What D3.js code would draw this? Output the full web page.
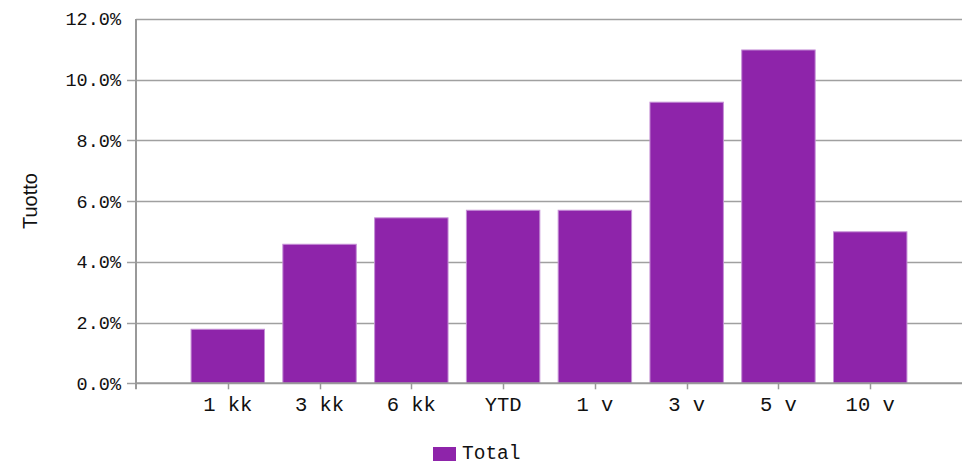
<!DOCTYPE html>
<html><head><meta charset="utf-8">
<script src="https://cdn.jsdelivr.net/npm/d3@7"></script>
<style>body{margin:0;background:#fff}svg{display:block}</style>
</head><body>
<svg id="c" width="968" height="463"></svg>
<script>
const categories = ["1 kk","3 kk","6 kk","YTD","1 v","3 v","5 v","10 v"];
const totalValues = [1.78, 4.58, 5.45, 5.70, 5.70, 9.26, 10.98, 4.99];
const yTicks = [0, 2, 4, 6, 8, 10, 12];
const seriesName = "Total";
const yTitle = "Tuotto";

const W = 968, H = 463;
const m = {left:136, right:6, top:19, bottom:80};
const svg = d3.select("#c");
const monoFont = "'Liberation Mono', monospace";
const barColor = "#8e24aa";

const y = d3.scaleLinear().domain([0,12]).range([H - m.bottom + 0.3, m.top]);
const slots = ["", ...categories, " "];
const x = d3.scalePoint().domain(slots).range([m.left, W - m.right]).padding(0);
const step = x.step();
const bw = step * 0.8;

// gridlines
svg.append("g").selectAll("line").data(yTicks.filter(d=>d>0)).join("line")
  .attr("x1", m.left).attr("x2", W - m.right)
  .attr("y1", d=>Math.round(y(d))+0.5).attr("y2", d=>Math.round(y(d))+0.5)
  .attr("stroke", "#a0a0a0").attr("stroke-width", 1.5);

// left tick marks
svg.append("g").selectAll("line").data(yTicks.filter(d=>d<12)).join("line")
  .attr("x1", m.left - 9).attr("x2", m.left)
  .attr("y1", d=>Math.round(y(d))+0.5).attr("y2", d=>Math.round(y(d))+0.5)
  .attr("stroke", "#a0a0a0").attr("stroke-width", 1.5);

// y labels
svg.append("g").selectAll("text").data(yTicks).join("text")
  .attr("x", 121).attr("y", d=>y(d))
  .attr("dy", "0.35em").attr("text-anchor", "end")
  .attr("font-family", monoFont).attr("font-size", 18.5).attr("fill", "#111")
  .text(d=>d3.format(".1f")(d) + "%");

// bars
svg.append("g").selectAll("rect").data(categories).join("rect")
  .attr("x", (d)=>x(d) - bw/2)
  .attr("width", bw)
  .attr("y", (d,i)=>y(totalValues[i]))
  .attr("height", (d,i)=>y(0) - y(totalValues[i]))
  .attr("fill", barColor)
  .attr("stroke", "#c58fd6").attr("stroke-width", 1);

// axes lines
svg.append("line").attr("x1", m.left).attr("x2", m.left)
  .attr("y1", m.top).attr("y2", y(0)+6)
  .attr("stroke", "#999").attr("stroke-width", 2);
svg.append("line").attr("x1", m.left).attr("x2", W - m.right)
  .attr("y1", y(0)).attr("y2", y(0))
  .attr("stroke", "#999").attr("stroke-width", 2);

// x ticks
svg.append("g").selectAll("line").data(categories).join("line")
  .attr("x1", d=>Math.round(x(d))+0.5).attr("x2", d=>Math.round(x(d))+0.5)
  .attr("y1", y(0)).attr("y2", y(0)+6)
  .attr("stroke", "#999").attr("stroke-width", 1.5);

// x labels
svg.append("g").selectAll("text").data(categories).join("text")
  .attr("x", d=>x(d)).attr("y", 411)
  .attr("text-anchor", "middle")
  .attr("font-family", monoFont).attr("font-size", 20.5).attr("fill", "#111")
  .text(d=>d);

// y title
svg.append("text")
  .attr("transform", "translate(37,201) rotate(-90)")
  .attr("text-anchor", "middle")
  .attr("font-family", "'Liberation Sans', Arial, sans-serif").attr("font-size", 20).attr("fill", "#111")
  .text(yTitle);

// legend
const lg = svg.append("g");
lg.append("rect").attr("x", 433).attr("y", 447).attr("width", 23).attr("height", 14).attr("fill", barColor);
lg.append("text").attr("x", 462).attr("y", 458.5)
  .attr("font-family", monoFont).attr("font-size", 19.5).attr("fill", "#111")
  .text(seriesName);
</script>
</body></html>
